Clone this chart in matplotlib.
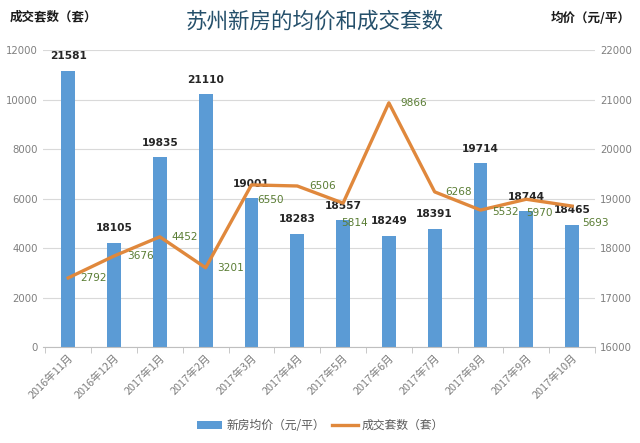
import matplotlib
matplotlib.use("Agg")
import matplotlib.pyplot as plt
import numpy as np

plt.rcParams['font.family'] = ['Noto Sans CJK SC', 'DejaVu Sans']

# data
months = ['2016年11月', '2016年12月', '2017年1月', '2017年2月', '2017年3月', '2017年4月',
          '2017年5月', '2017年6月', '2017年7月', '2017年8月', '2017年9月', '2017年10月']
avg_price = [21581, 18105, 19835, 21110, 19001, 18283, 18557, 18249, 18391, 19714, 18744, 18465]
deals = [2792, 3676, 4452, 3201, 6550, 6506, 5814, 9866, 6268, 5532, 5970, 5693]

# label nudges for the line labels (pixels)
deal_dx = [12, 13, 12, 12, 6, 12, -2, 12, 11, 12, 0, 10]
deal_dy = [0, 0, 0, 0, -15, 0, -20, 0, 0, -2, -14, -17]

bar_color = '#5B9BD5'
line_color = '#E0883C'
green = '#5A7D34'
gray = '#7F7F7F'
px = 0.72  # pixels -> points at dpi 100

fig = plt.figure(figsize=(6.4, 4.43), dpi=100)
ax2 = fig.add_axes([0.0672, 0.2167, 0.8625, 0.6704])   # bars, right scale
ax = ax2.twinx()                                       # line, left scale
ax.yaxis.tick_left()
ax2.yaxis.tick_right()
ax.set_zorder(ax2.get_zorder() + 1)
ax.patch.set_visible(False)

x = np.arange(len(months))

# bars (right axis)
bars = ax2.bar(x, avg_price, width=0.3, color=bar_color, zorder=2, label='新房均价（元/平）')
ax2.set_ylim(16000, 22000)
ax2.set_yticks(np.arange(16000, 22001, 1000))
ax2.grid(axis='y', color='#D9D9D9', linewidth=0.8, zorder=0)
ax2.set_axisbelow(True)
for xi, v in zip(x, avg_price):
    ax2.annotate(str(v), (xi, v), xytext=(0, 14.5 * px), textcoords='offset points',
                 ha='center', va='center', fontsize=7.7, fontweight='bold',
                 color='#262626', family='DejaVu Sans')

# line (left axis)
line, = ax.plot(x, deals, color=line_color, linewidth=2.4, zorder=3, label='成交套数（套）')
ax.set_ylim(0, 12000)
ax.set_yticks(np.arange(0, 12001, 2000))
for xi, v, dx, dy in zip(x, deals, deal_dx, deal_dy):
    ax.annotate(str(v), (xi, v), xytext=(dx * px, dy * px), textcoords='offset points',
                ha='left', va='center', fontsize=7.6, color=green, family='DejaVu Sans')

ax2.set_xlim(-0.55, 11.5)
ax2.set_xticks(x)
ax2.set_xticklabels(months, rotation=45, ha='right', rotation_mode='anchor',
                    fontsize=7.8, color=gray)
ax2.set_xticks(np.arange(-0.5, 11.6, 1), minor=True)
ax2.tick_params(axis='x', which='major', length=0, pad=4)
ax2.tick_params(axis='x', which='minor', length=4, color='#BFBFBF')

for a in (ax, ax2):
    for s in ('top', 'left', 'right'):
        a.spines[s].set_visible(False)
    a.tick_params(axis='y', length=0, labelsize=7.3, labelcolor=gray)
ax.spines['bottom'].set_visible(False)
ax2.spines['bottom'].set_color('#BFBFBF')
for t in ax.get_yticklabels() + ax2.get_yticklabels():
    t.set_family('DejaVu Sans')

# titles
fig.text(0.492, 0.952, '苏州新房的均价和成交套数', ha='center', va='center',
         fontsize=15.5, color='#25506B')
fig.text(0.015, 0.962, '成交套数（套）', ha='left', va='center', fontsize=9,
         color='#1a1a1a', fontweight='bold')
fig.text(0.985, 0.958, '均价（元/平）', ha='right', va='center', fontsize=9,
         color='#1a1a1a', fontweight='bold')

fig.legend(handles=[bars, line], labels=['新房均价（元/平）', '成交套数（套）'],
           loc='center', bbox_to_anchor=(0.5, 0.04), ncol=2, frameon=False,
           fontsize=8.5, labelcolor='#595959', handlelength=2.2, columnspacing=0.6,
           handletextpad=0.3)

fig.savefig('out.png', dpi=100)
